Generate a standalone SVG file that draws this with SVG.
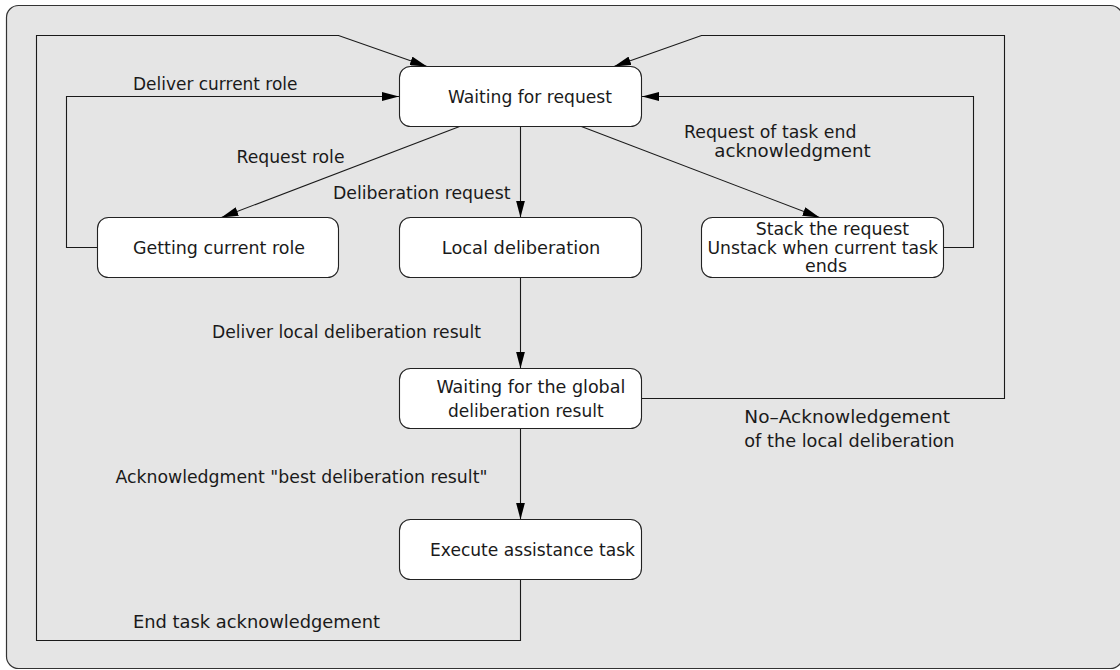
<svg xmlns="http://www.w3.org/2000/svg" width="1120" height="670" viewBox="0 0 1120 670">
  <style>
    .frame { fill: #e5e5e5; stroke: #333333; stroke-width: 1.2; }
    .node { fill: #ffffff; stroke: #222222; stroke-width: 1.1; }
    .edge { fill: none; stroke: #1a1a1a; stroke-width: 1.1; }
    .arr { marker-end: url(#ah); }
    text { font-family: "DejaVu Sans", "Liberation Sans", sans-serif; font-size: 17px; fill: #1a1a1a; lengthAdjust: spacingAndGlyphs; }
  </style>
  <defs>
    <marker id="ah" markerUnits="userSpaceOnUse" viewBox="0 0 17 9" refX="17" refY="4.5" markerWidth="17" markerHeight="9" orient="auto">
      <path d="M0,0 L17,4.5 L0,9 Z" fill="#000000"/>
    </marker>
  </defs>

  <rect class="frame" x="6.5" y="5.5" width="1116" height="663" rx="12" ry="12"/>

  <g id="connectors">
    <path class="edge arr" d="M520.5,579.5 V640.5 H36.5 V35.5 H338.5 L427,66.5"/>
    <path class="edge arr" d="M641.5,398.5 H1004.5 V35.5 H701.5 L614,66.5"/>
    <path class="edge arr" d="M97.5,247.5 H66.5 V96.5 H399"/>
    <path class="edge arr" d="M943.5,247.5 H973.5 V96.5 H642"/>
    <path class="edge arr" d="M459.6,126.5 L221.4,217.5"/>
    <path class="edge arr" d="M520.5,126.5 V217.5"/>
    <path class="edge arr" d="M581.4,126.5 L819.6,217.5"/>
    <path class="edge arr" d="M520.5,277.5 V368.5"/>
    <path class="edge arr" d="M520.5,428.5 V519.5"/>
  </g>

  <g id="edge-labels">
    <text x="133" y="90" textLength="164.5" lengthAdjust="spacingAndGlyphs">Deliver current role</text>
    <text x="236.5" y="163" textLength="108" lengthAdjust="spacingAndGlyphs">Request role</text>
    <text x="333" y="199" textLength="177.5" lengthAdjust="spacingAndGlyphs">Deliberation request</text>
    <text x="684" y="138" textLength="172.4" lengthAdjust="spacingAndGlyphs">Request of task end</text>
    <text x="714.3" y="156.5" textLength="156.4" lengthAdjust="spacingAndGlyphs">acknowledgment</text>
    <text x="212" y="338" textLength="269" lengthAdjust="spacingAndGlyphs">Deliver local deliberation result</text>
    <text x="115.4" y="482.5" textLength="372" lengthAdjust="spacingAndGlyphs">Acknowledgment "best deliberation result"</text>
    <text x="133" y="628" textLength="247" lengthAdjust="spacingAndGlyphs">End task acknowledgement</text>
    <text x="744.3" y="422.5" textLength="205.7" lengthAdjust="spacingAndGlyphs">No–Acknowledgement</text>
    <text x="744.3" y="446.5" textLength="210.3" lengthAdjust="spacingAndGlyphs">of the local deliberation</text>
  </g>

  <g id="node-waiting-request">
    <rect class="node" x="399.5" y="66.5" width="242" height="60" rx="11" ry="11"/>
    <text x="448" y="103" textLength="164" lengthAdjust="spacingAndGlyphs">Waiting for request</text>
  </g>
  <g id="node-getting-role">
    <rect class="node" x="97.5" y="217.5" width="241" height="60" rx="11" ry="11"/>
    <text x="133" y="254" textLength="172" lengthAdjust="spacingAndGlyphs">Getting current role</text>
  </g>
  <g id="node-local-deliberation">
    <rect class="node" x="399.5" y="217.5" width="242" height="60" rx="11" ry="11"/>
    <text x="441.8" y="254" textLength="158.6" lengthAdjust="spacingAndGlyphs">Local deliberation</text>
  </g>
  <g id="node-stack">
    <rect class="node" x="701.5" y="217.5" width="242" height="60" rx="11" ry="11"/>
    <text x="755.7" y="235" textLength="153.3" lengthAdjust="spacingAndGlyphs">Stack the request</text>
    <text x="707.5" y="254" textLength="230.5" lengthAdjust="spacingAndGlyphs">Unstack when current task</text>
    <text x="805" y="272" textLength="42" lengthAdjust="spacingAndGlyphs">ends</text>
  </g>
  <g id="node-waiting-global">
    <rect class="node" x="399.5" y="368.5" width="242" height="60" rx="11" ry="11"/>
    <text x="436.4" y="393" textLength="189" lengthAdjust="spacingAndGlyphs">Waiting for the global</text>
    <text x="448" y="416.5" textLength="155.6" lengthAdjust="spacingAndGlyphs">deliberation result</text>
  </g>
  <g id="node-execute">
    <rect class="node" x="399.5" y="519.5" width="242" height="60" rx="11" ry="11"/>
    <text x="430" y="556" textLength="205" lengthAdjust="spacingAndGlyphs">Execute assistance task</text>
  </g>
</svg>
